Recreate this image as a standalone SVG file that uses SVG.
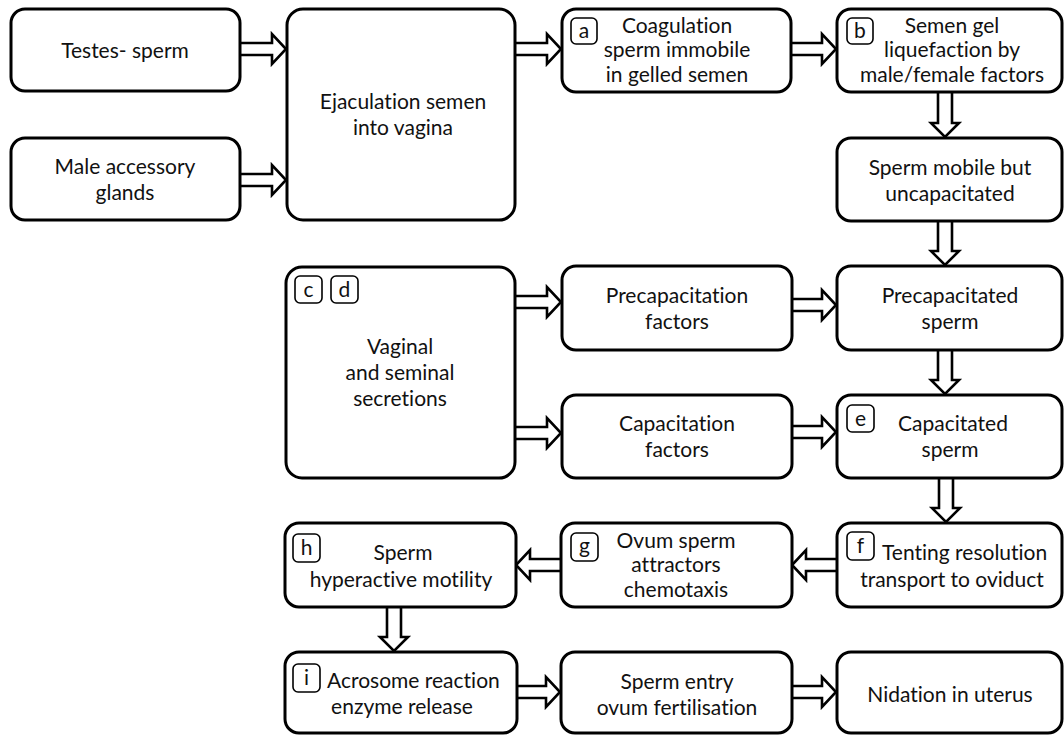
<svg xmlns="http://www.w3.org/2000/svg" width="1064" height="735" viewBox="0 0 1064 735">
<style>
.box{fill:#fff;stroke:#000;stroke-width:3}
.lab{fill:#fff;stroke:#000;stroke-width:1.6}
.arr{fill:#fff;stroke:#000;stroke-width:2.6;stroke-linejoin:miter}
text{font-family:Lato,"Liberation Sans",sans-serif;font-size:21px;fill:#111;text-anchor:middle;font-variant-ligatures:none;font-feature-settings:"liga" 0,"dlig" 0}
.lt{font-size:21px}
.st{text-anchor:start}
</style>
<rect width="1064" height="735" fill="#fff"/>
<g id="connectors">
<path class="arr" d="M240 43 H272 V34 L286 49 L272 64 V55 H240"/>
<path class="arr" d="M240 174 H272 V165 L286 180 L272 195 V186 H240"/>
<path class="arr" d="M515 43 H547 V34 L561 49 L547 64 V55 H515"/>
<path class="arr" d="M792 43 H822 V34 L836 49 L822 64 V55 H792"/>
<path class="arr" d="M938 92 V123 H931 L945 137 L959 123 H952 V92"/>
<path class="arr" d="M938 221 V251 H931 L945 265 L959 251 H952 V221"/>
<path class="arr" d="M515 296 H547 V287 L561 302 L547 317 V308 H515"/>
<path class="arr" d="M792 299 H822 V290 L836 305 L822 320 V311 H792"/>
<path class="arr" d="M938 350 V380 H931 L945 394 L959 380 H952 V350"/>
<path class="arr" d="M515 427 H547 V418 L561 433 L547 448 V439 H515"/>
<path class="arr" d="M792 426 H822 V417 L836 432 L822 447 V438 H792"/>
<path class="arr" d="M939 478 V508 H932 L946 522 L960 508 H953 V478"/>
<path class="arr" d="M837 559 H806 V550 L792 565 L806 580 V571 H837"/>
<path class="arr" d="M561 559 H530 V550 L516 565 L530 580 V571 H561"/>
<path class="arr" d="M387 607 V637 H380 L394 651 L408 637 H401 V607"/>
<path class="arr" d="M517 686 H546 V677 L560 692 L546 707 V698 H517"/>
<path class="arr" d="M792 686 H822 V677 L836 692 L822 707 V698 H792"/>
</g>
<g id="testes">
<rect class="box" x="11" y="9" width="229" height="82" rx="14"/>
<text x="125" y="58">Testes- sperm</text>
</g>
<g id="male-glands">
<rect class="box" x="11" y="138" width="229" height="82" rx="14"/>
<text x="125" y="174">Male accessory</text>
<text x="125" y="200">glands</text>
</g>
<g id="ejaculation">
<rect class="box" x="287" y="9" width="228" height="211" rx="16"/>
<text x="403" y="109">Ejaculation semen</text>
<text x="403" y="135">into vagina</text>
</g>
<g id="coagulation">
<rect class="box" x="562" y="9" width="229" height="83" rx="14"/>
<rect class="lab" x="571" y="18" width="26" height="26" rx="5"/>
<text class="lt" x="584" y="38">a</text>
<text x="677" y="33">Coagulation</text>
<text x="677" y="57">sperm immobile</text>
<text x="677" y="82">in gelled semen</text>
</g>
<g id="liquefaction">
<rect class="box" x="837" y="9" width="225" height="83" rx="14"/>
<rect class="lab" x="847" y="18" width="26" height="26" rx="5"/>
<text class="lt" x="860" y="38">b</text>
<text x="952" y="33">Semen gel</text>
<text x="952" y="57">liquefaction by</text>
<text x="952" y="82">male/female factors</text>
</g>
<g id="sperm-mobile">
<rect class="box" x="837" y="138" width="225" height="83" rx="14"/>
<text x="950" y="175">Sperm mobile but</text>
<text x="950" y="201">uncapacitated</text>
</g>
<g id="vaginal">
<rect class="box" x="286" y="267" width="229" height="211" rx="16"/>
<rect class="lab" x="295" y="276" width="27" height="27" rx="5"/>
<text class="lt" x="308.5" y="297">c</text>
<rect class="lab" x="331" y="276" width="27" height="27" rx="5"/>
<text class="lt" x="344.5" y="297">d</text>
<text x="400" y="354">Vaginal</text>
<text x="400" y="380">and seminal</text>
<text x="400" y="406">secretions</text>
</g>
<g id="precap-factors">
<rect class="box" x="562" y="266" width="230" height="84" rx="14"/>
<text x="677" y="303">Precapacitation</text>
<text x="677" y="329">factors</text>
</g>
<g id="precap-sperm">
<rect class="box" x="837" y="266" width="225" height="84" rx="14"/>
<text x="950" y="303">Precapacitated</text>
<text x="950" y="329">sperm</text>
</g>
<g id="cap-factors">
<rect class="box" x="562" y="395" width="230" height="83" rx="14"/>
<text x="677" y="431">Capacitation</text>
<text x="677" y="457">factors</text>
</g>
<g id="cap-sperm">
<rect class="box" x="837" y="395" width="225" height="83" rx="14"/>
<rect class="lab" x="847" y="405" width="27" height="27" rx="5"/>
<text class="lt" x="860.5" y="426">e</text>
<text x="953" y="431">Capacitated</text>
<text x="950" y="457">sperm</text>
</g>
<g id="tenting">
<rect class="box" x="837" y="523" width="225" height="84" rx="14"/>
<rect class="lab" x="847" y="532" width="27" height="28" rx="5"/>
<text class="lt" x="860.5" y="553">f</text>
<text class="st" x="882" y="560">Tenting resolution</text>
<text x="952" y="587">transport to oviduct</text>
</g>
<g id="attractors">
<rect class="box" x="561" y="523" width="231" height="84" rx="14"/>
<rect class="lab" x="571" y="533" width="27" height="28" rx="5"/>
<text class="lt" x="584.5" y="553">g</text>
<text x="676" y="548">Ovum sperm</text>
<text x="676" y="572">attractors</text>
<text x="676" y="597">chemotaxis</text>
</g>
<g id="hyperactive">
<rect class="box" x="285" y="523" width="231" height="84" rx="14"/>
<rect class="lab" x="293" y="534" width="27" height="28" rx="5"/>
<text class="lt" x="306.5" y="555">h</text>
<text x="403" y="560">Sperm</text>
<text x="401" y="587">hyperactive motility</text>
</g>
<g id="acrosome">
<rect class="box" x="285" y="652" width="232" height="81" rx="14"/>
<rect class="lab" x="293" y="664" width="27" height="28" rx="5"/>
<text class="lt" x="306.5" y="685">i</text>
<text class="st" x="327" y="688">Acrosome reaction</text>
<text x="402" y="714">enzyme release</text>
</g>
<g id="sperm-entry">
<rect class="box" x="561" y="652" width="231" height="81" rx="14"/>
<text x="677" y="689">Sperm entry</text>
<text x="677" y="715">ovum fertilisation</text>
</g>
<g id="nidation">
<rect class="box" x="837" y="652" width="225" height="81" rx="14"/>
<text x="950" y="702">Nidation in uterus</text>
</g>
</svg>
